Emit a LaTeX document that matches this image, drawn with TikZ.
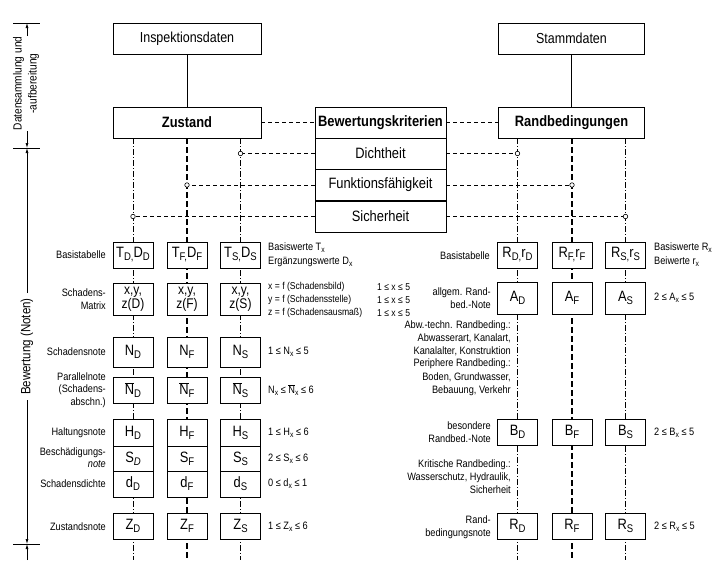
\documentclass[tikz,border=0pt]{standalone}
\usepackage{fontspec}
\setmainfont{Liberation Sans}[FakeStretch=0.86]
\usetikzlibrary{arrows.meta}
\newcommand\sub[1]{\raisebox{-0.38ex}{\scalebox{0.74}{#1}}}
\newcommand\ovN{\ensuremath{\overline{\hbox{N}}}}
\newcommand\fbig{\fontsize{15}{17}\selectfont}
\newcommand\fmid{\fontsize{14}{14.5}\selectfont}
\newcommand\flab{\fontsize{10.7}{12}\selectfont}
\newcommand\fsm{\fontsize{10}{13}\selectfont}
\begin{document}
\begin{tikzpicture}[x=1pt,y=-1pt,
  bigbox/.style={draw, fill=white, line width=0.9pt, inner sep=0pt, minimum height=31pt},
  sbox/.style={draw, fill=white, line width=0.8pt, inner sep=0pt, minimum width=40pt},
  lab/.style={inner sep=0pt, font=\flab},
  labr/.style={lab, anchor=east, align=right},
  labl/.style={lab, anchor=west, align=left},
  colthin/.style={line width=0.5pt, dash pattern=on 6pt off 2pt on 1pt off 2pt},
  colthick/.style={line width=1.2pt, dash pattern=on 6pt off 3pt},
  hdash/.style={line width=0.6pt, dash pattern=on 4pt off 3pt},
  dot/.style={circle, draw, fill=white, line width=0.6pt, inner sep=0pt, minimum size=4.5pt},
  axarrow/.style={line width=0.7pt, -{Latex[length=5pt,width=3pt]}}
]
\useasboundingbox[fill=white] (0,0) rectangle (720,560);

% ---------- main boxes ----------
\node[bigbox, minimum width=148pt, font=\fontsize{14.5}{16}\selectfont] (insp) at (187,38.5) {Inspektionsdaten};
\node[bigbox, minimum width=146pt, font=\fontsize{14.5}{16}\selectfont] (stamm) at (571.5,38.5) {Stammdaten};

\coordinate (bot) at (0,560);

\coordinate (cA) at (133,0);
\coordinate (cB) at (187,0);
\coordinate (cC) at (240.5,0);
\coordinate (cD) at (517.5,0);
\coordinate (cE) at (572,0);
\coordinate (cF) at (625.5,0);
\coordinate (top) at (0,138);

% ---------- column lines ----------
\draw[colthin]  (cA |- top) -- (cA |- bot);
\draw[colthick] (cB |- top) -- (cB |- bot);
\draw[colthin]  (cC |- top) -- (cC |- bot);
\draw[colthin]  (cD |- top) -- (cD |- bot);
\draw[colthick] (cE |- top) -- (cE |- bot);
\draw[colthin]  (cF |- top) -- (cF |- bot);

\node[bigbox, minimum width=148pt, font=\fbig\bfseries] (zust) at (187,122.5) {Zustand};
\node[bigbox, minimum width=146pt, font=\fbig\bfseries] (rand) at (571.5,122.5) {Randbedingungen};
\node[bigbox, minimum width=131pt, font=\fbig\bfseries] (bew) at (380.5,122.5) {Bewertungskriterien};
\node[bigbox, minimum width=131pt, font=\fbig] (dicht) at (380.5,153.5) {Dichtheit};
\node[bigbox, minimum width=131pt, font=\fbig] (funk) at (380.5,185) {Funktionsfähigkeit};
\node[bigbox, minimum width=131pt, font=\fbig] (sich) at (380.5,216.5) {Sicherheit};

\draw[line width=0.9pt] (insp) -- (zust);
\draw[line width=0.9pt] (stamm) -- (rand);
\draw[hdash] (zust.east) -- (bew.west);
\draw[hdash] (bew.east) -- (rand.west);

% dots
\node[dot] (dl1) at (240.5,153.5) {};
\node[dot] (dl2) at (187,185) {};
\node[dot] (dl3) at (133,216.5) {};
\node[dot] (dr1) at (517.5,153.5) {};
\node[dot] (dr2) at (572,185) {};
\node[dot] (dr3) at (625.5,216.5) {};
\draw[hdash] (dicht.west) -- (dl1);
\draw[hdash] (funk.west) -- (dl2);
\draw[hdash] (sich.west) -- (dl3);
\draw[hdash] (dicht.east) -- (dr1);
\draw[hdash] (funk.east) -- (dr2);
\draw[hdash] (sich.east) -- (dr3);

% ---------- left small boxes ----------
\foreach \c/\n/\k in {133/D/D, 187/F/F, 240.5/S/S}{
  \node[sbox, minimum height=26pt, font=\fbig] (T\k) at (\c,255) {T\sub{\n,}D\sub{\n}};
  \node[sbox, minimum height=32pt, font=\fmid, align=center] (M\k) at (\c,299) {x,y,\\z(\n)};
  \node[sbox, minimum height=30pt, font=\fbig] (N\k) at (\c,352) {N\sub{\n}};
  \node[sbox, minimum height=26pt, font=\fbig] (P\k) at (\c,390) {\ovN\sub{\n}};
  \node[sbox, minimum height=27pt, font=\fbig] (H\k) at (\c,432.5) {H\sub{\n}};
  \node[sbox, minimum height=26pt, font=\fbig] (d\k) at (\c,484) {d\sub{\n}};
  \node[sbox, minimum height=26pt, font=\fbig] (Z\k) at (\c,526) {Z\sub{\n}};
}
\node[sbox, minimum height=25pt, font=\fbig] (SD) at (133,458.5) {S\sub{\itshape D}};
\node[sbox, minimum height=25pt, font=\fbig] (SF) at (187,458.5) {S\sub{F}};
\node[sbox, minimum height=25pt, font=\fbig] (SS) at (240.5,458.5) {S\sub{S}};

% ---------- right small boxes ----------
\foreach \c/\n in {517.5/D, 572/F, 625.5/S}{
  \node[sbox, minimum height=26pt, font=\fbig] (R0\n) at (\c,255) {R\sub{\n,}r\sub{\n}};
  \node[sbox, minimum height=32pt, font=\fbig] (A\n) at (\c,298) {A\sub{\n}};
  \node[sbox, minimum height=26pt, font=\fbig] (B\n) at (\c,432) {B\sub{\n}};
  \node[sbox, minimum height=26pt, font=\fbig] (R\n) at (\c,526) {R\sub{\n}};
}

% ---------- left labels ----------
\node[labr] (l1) at (106,255) {Basistabelle};
\node[labr, font=\fontsize{10.7}{13}\selectfont] (l2) at (106,299) {Schadens-\\Matrix};
\node[labr] (l3) at (106,352) {Schadensnote};
\node[labr, font=\fontsize{10.7}{12.5}\selectfont] (l4) at (106,390) {Parallelnote\\(Schadens-\\abschn.)};
\node[labr] (l5) at (106,433) {Haltungsnote};
\node[labr, font=\fontsize{10.7}{11.5}\selectfont] (l6) at (106,457.5) {Beschädigungs-\\\textit{note}};
\node[labr] (l7) at (106,484) {Schadensdichte};
\node[labr] (l8) at (106,527) {Zustandsnote};

% ---------- middle labels ----------
\node[labl, font=\fontsize{10.7}{14}\selectfont] (m1) at (268,255) {Basiswerte T\sub{x}\\Ergänzungswerte D\sub{x}};
\node[labl, font=\fsm] (m2) at (268,300) {x = f (Schadensbild)\\y = f (Schadensstelle)\\z = f (Schadensausmaß)};
\node[labl, font=\fsm] (m2b) at (377,300) {1 ≤ x ≤ 5\\1 ≤ x ≤ 5\\1 ≤ x ≤ 5};
\node[labl] (m3) at (268,352) {1 ≤ N\sub{x} ≤ 5};
\node[labl] (m4) at (268,390) {N\sub{x} ≤ \ovN\sub{x} ≤ 6};
\node[labl] (m5) at (268,433) {1 ≤ H\sub{x} ≤ 6};
\node[labl] (m6) at (268,459) {2 ≤ S\sub{x} ≤ 6};
\node[labl] (m7) at (268,484) {0 ≤ d\sub{x} ≤ 1};
\node[labl] (m8) at (268,527) {1 ≤ Z\sub{x} ≤ 6};

% ---------- right labels ----------
\node[labr] (r1) at (490,256) {Basistabelle};
\node[labl, font=\fontsize{10.7}{14}\selectfont] (r2) at (654,255) {Basiswerte R\sub{x}\\Beiwerte r\sub{x}};
\node[labr, font=\fontsize{10.7}{13}\selectfont] (r3) at (491,298) {allgem. Rand-\\bed.-Note};
\node[labl] (r4) at (654,298) {2 ≤ A\sub{x} ≤ 5};
\node[labr, font=\fontsize{10.7}{13}\selectfont] (r5) at (511,338) {Abw.-techn. Randbeding.:\\Abwasserart, Kanalart,\\Kanalalter, Konstruktion};
\node[labr, font=\fontsize{10.7}{13.5}\selectfont] (r6) at (511,377.5) {Periphere Randbeding.:\\Boden, Grundwasser,\\Bebauung, Verkehr};
\node[labr, font=\fontsize{10.7}{12.5}\selectfont] (r7) at (491,432) {besondere\\Randbed.-Note};
\node[labl] (r8) at (654,433) {2 ≤ B\sub{x} ≤ 5};
\node[labr, font=\fontsize{10.7}{13}\selectfont] (r9) at (511,477) {Kritische Randbeding.:\\Wasserschutz, Hydraulik,\\Sicherheit};
\node[labr, font=\fontsize{10.7}{12.5}\selectfont] (r10) at (491,527) {Rand-\\bedingungsnote};
\node[labl] (r11) at (654,527) {2 ≤ R\sub{x} ≤ 5};

% ---------- left axis ----------
\draw[line width=0.7pt] (13,23) -- (40,23);
\draw[line width=0.7pt] (13,148) -- (40,148);
\draw[line width=0.7pt] (13,544) -- (40,544);
\draw[axarrow] (27,36) -- (27,23);
\draw[axarrow] (27,131) -- (27,148);
\node[inner sep=0pt, rotate=90, align=center, font=\fontsize{11.8}{15}\selectfont] (ax1) at (26,83.5) {Datensammlung und\\-aufbereitung};
\draw[axarrow] (27,293) -- (27,148);
\node[inner sep=0pt, rotate=90, font=\fontsize{13.4}{14}\selectfont] (ax2) at (27,346.5) {Bewertung (Noten)};
\draw[axarrow] (27,400) -- (27,544);
\draw[axarrow] (27,560) -- (27,544);
\end{tikzpicture}
\end{document}
